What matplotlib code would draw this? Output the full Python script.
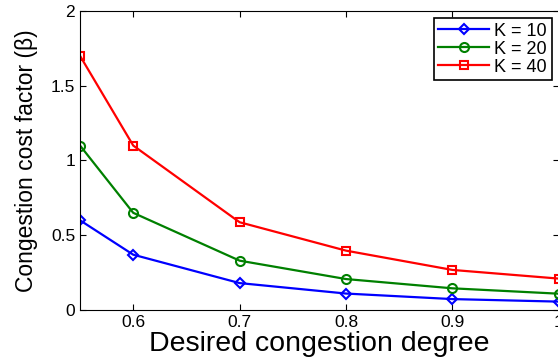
import numpy as np
import matplotlib
matplotlib.use("Agg")
import matplotlib.pyplot as plt

plt.rcParams['font.family'] = ['Liberation Sans', 'DejaVu Sans']

# данные
degree = [0.55, 0.6, 0.7, 0.8, 0.9, 1.0]
beta_k10 = [0.60, 0.37, 0.18, 0.11, 0.073, 0.056]
beta_k20 = [1.10, 0.65, 0.33, 0.207, 0.145, 0.109]
beta_k40 = [1.70, 1.10, 0.587, 0.397, 0.268, 0.21]

fig = plt.figure(figsize=(5.58, 3.6), dpi=100)
ax = fig.add_axes([0.1434, 0.1389, 0.858, 0.8306])

ax.plot(degree, beta_k10, color='blue', marker='D', markersize=5.5,
        mfc='none', mew=1.5, lw=1.6, label='K = 10')
ax.plot(degree, beta_k20, color='green', marker='o', markersize=6.5,
        mfc='none', mew=1.5, lw=1.6, label='K = 20')
ax.plot(degree, beta_k40, color='red', marker='s', markersize=6,
        mfc='none', mew=1.5, lw=1.6, label='K = 40')

ax.set_xlim(0.55, 1.0)
ax.set_ylim(0, 2)
ax.set_xticks([0.6, 0.7, 0.8, 0.9, 1.0])
ax.set_xticklabels(['0.6', '0.7', '0.8', '0.9', '1'])
ax.set_yticks([0, 0.5, 1, 1.5, 2])
ax.set_yticklabels(['0', '0.5', '1', '1.5', '2'])
ax.tick_params(direction='in', top=True, right=True, labelsize=12.5, length=4)

ax.set_xlabel('Desired congestion degree', fontsize=20.5, labelpad=1)
ax.set_ylabel('Congestion cost factor (β)', fontsize=16.5, labelpad=9)

leg = ax.legend(loc='upper right', fontsize=13, fancybox=False,
                edgecolor='black', framealpha=1, borderaxespad=0.4,
                handlelength=2.8, labelspacing=0.05, borderpad=0.25,
                handletextpad=0.3)
leg.get_frame().set_linewidth(1.2)

fig.savefig('out.png', dpi=100)
